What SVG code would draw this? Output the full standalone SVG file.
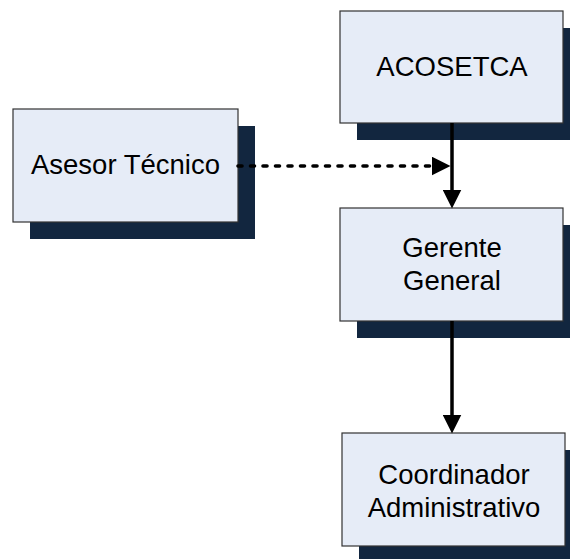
<svg xmlns="http://www.w3.org/2000/svg" width="570" height="559" viewBox="0 0 570 559">
  <style>
    .shadow { fill: #12263f; }
    .box { fill: #e6ecf7; stroke: #333333; stroke-width: 1.2; }
    .lbl { font-family: "Liberation Sans", Arial, sans-serif; font-size: 27.5px; fill: #000000; text-anchor: middle; }
    .solid { stroke: #000000; stroke-width: 3.5; fill: none; }
    .dashed { stroke: #000000; stroke-width: 3.6; fill: none; stroke-dasharray: 4 8.5; stroke-linecap: round; }
  </style>
  <defs>
    <marker id="arrow" markerUnits="userSpaceOnUse" markerWidth="19" markerHeight="19" viewBox="0 0 18 18" refX="9" refY="9" orient="auto">
      <path d="M0,0 L18,9 L0,18 Z" fill="#000000"/>
    </marker>
  </defs>
  <rect width="570" height="559" fill="#ffffff"/>

  <g id="node-acosetca">
    <rect class="shadow" x="357" y="28" width="223" height="112"/>
    <rect class="box" x="340" y="11" width="223" height="112"/>
    <text class="lbl" x="452" y="76">ACOSETCA</text>
  </g>

  <g id="node-asesor">
    <rect class="shadow" x="30" y="126" width="225" height="113"/>
    <rect class="box" x="13" y="109" width="225" height="113"/>
    <text class="lbl" x="125.5" y="174">Asesor Técnico</text>
  </g>

  <g id="node-gerente">
    <rect class="shadow" x="357" y="225" width="223" height="113"/>
    <rect class="box" x="340" y="208" width="223" height="113"/>
    <text class="lbl" x="452" y="257">Gerente</text>
    <text class="lbl" x="452" y="289.5">General</text>
  </g>

  <g id="node-coordinador">
    <rect class="shadow" x="359" y="450" width="223" height="113"/>
    <rect class="box" x="342" y="433" width="223" height="113"/>
    <text class="lbl" x="454" y="483.5">Coordinador</text>
    <text class="lbl" x="454" y="516.5">Administrativo</text>
  </g>

  <g id="connectors">
    <line class="solid" x1="452" y1="123" x2="452" y2="199" marker-end="url(#arrow)"/>
    <line class="solid" x1="452" y1="321" x2="452" y2="424" marker-end="url(#arrow)"/>
    <line class="dashed" x1="238" y1="166" x2="441" y2="166" marker-end="url(#arrow)"/>
  </g>
</svg>
